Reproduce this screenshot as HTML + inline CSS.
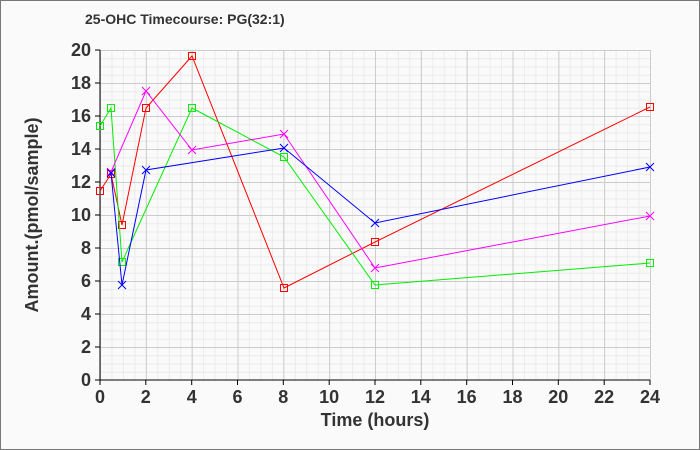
<!DOCTYPE html>
<html><head><style>body{margin:0}svg{display:block}text{font-family:"Liberation Sans",sans-serif;font-weight:bold;fill:#333}</style></head>
<body>
<svg width="700" height="450" xmlns="http://www.w3.org/2000/svg">
<defs>
<pattern id="mi" patternUnits="userSpaceOnUse" x="100" y="50" width="11.4583" height="8.25"><path d="M0.5 0V8.25M0 0.5H11.4583" stroke="#ebebeb" fill="none"/></pattern>
<pattern id="ma" patternUnits="userSpaceOnUse" x="100" y="50" width="45.8333" height="33"><path d="M0.5 0V33M0 0.5H45.8333" stroke="#ccc" fill="none"/></pattern>
</defs>
<rect x="0.5" y="0.5" width="699" height="449" fill="#fafafa" stroke="#777"/>
<text x="85" y="24" font-size="14" fill="#222">25-OHC Timecourse: PG(32:1)</text>
<rect x="100" y="50" width="551" height="330" fill="url(#mi)"/>
<rect x="100" y="50" width="551" height="330" fill="url(#ma)"/>
<path d="M100 50V380H650" stroke="#000" fill="none"/>
<path d="M95 380H100M95 347H100M95 314H100M95 281H100M95 248H100M95 215H100M95 182H100M95 149H100M95 116H100M95 83H100M95 50H100" stroke="#000"/>
<path d="M100 380V385M145.8 380V385M191.7 380V385M237.5 380V385M283.3 380V385M329.2 380V385M375 380V385M420.8 380V385M466.7 380V385M512.5 380V385M558.3 380V385M604.2 380V385M650 380V385" stroke="#000"/>
<g font-size="18" text-anchor="end">
<text x="91" y="386">0</text><text x="91" y="353">2</text><text x="91" y="320">4</text><text x="91" y="287">6</text><text x="91" y="254">8</text><text x="91" y="221">10</text><text x="91" y="188">12</text><text x="91" y="155">14</text><text x="91" y="122">16</text><text x="91" y="89">18</text><text x="91" y="56">20</text>
</g>
<g font-size="18" text-anchor="middle">
<text x="100" y="403">0</text><text x="145.8" y="403">2</text><text x="191.7" y="403">4</text><text x="237.5" y="403">6</text><text x="283.3" y="403">8</text><text x="329.2" y="403">10</text><text x="375" y="403">12</text><text x="420.8" y="403">14</text><text x="466.7" y="403">16</text><text x="512.5" y="403">18</text><text x="558.3" y="403">20</text><text x="604.2" y="403">22</text><text x="650" y="403">24</text>
</g>
<text x="375" y="426" font-size="18" text-anchor="middle">Time (hours)</text>
<text transform="translate(38,215) rotate(-90)" font-size="18" text-anchor="middle">Amount.(pmol/sample)</text>
<g fill="none" stroke-width="1">
<polyline stroke="#f00" points="100,191 111,174 122,225 146,108 192,56 284,288 375,242 650,107"/>
<g stroke="#f00"><rect x="96.5" y="187.5" width="7" height="7"/><rect x="107.5" y="170.5" width="7" height="7"/><rect x="118.5" y="221.5" width="7" height="7"/><rect x="142.5" y="104.5" width="7" height="7"/><rect x="188.5" y="52.5" width="7" height="7"/><rect x="280.5" y="284.5" width="7" height="7"/><rect x="371.5" y="238.5" width="7" height="7"/><rect x="646.5" y="103.5" width="7" height="7"/></g>
<polyline stroke="#0e0" points="100,126 111,108 122,262 192,108 284,157 375,285 650,263"/>
<g stroke="#0e0"><rect x="96.5" y="122.5" width="7" height="7"/><rect x="107.5" y="104.5" width="7" height="7"/><rect x="118.5" y="258.5" width="7" height="7"/><rect x="188.5" y="104.5" width="7" height="7"/><rect x="280.5" y="153.5" width="7" height="7"/><rect x="371.5" y="281.5" width="7" height="7"/><rect x="646.5" y="259.5" width="7" height="7"/></g>
<polyline stroke="#f0f" points="111,172 146,91 192,150 284,134 375,268 650,216"/>
<path stroke="#f0f" d="M107 168l8 8m-8 0l8-8M142 87l8 8m-8 0l8-8M188 146l8 8m-8 0l8-8M280 130l8 8m-8 0l8-8M371 264l8 8m-8 0l8-8M646 212l8 8m-8 0l8-8"/>
<polyline stroke="#00f" points="111,173 122,285 146,170 284,148 375,223 650,167"/>
<path stroke="#00f" d="M107 169l8 8m-8 0l8-8M118 281l8 8m-8 0l8-8M142 166l8 8m-8 0l8-8M280 144l8 8m-8 0l8-8M371 219l8 8m-8 0l8-8M646 163l8 8m-8 0l8-8"/>
</g>
</svg>
</body></html>
